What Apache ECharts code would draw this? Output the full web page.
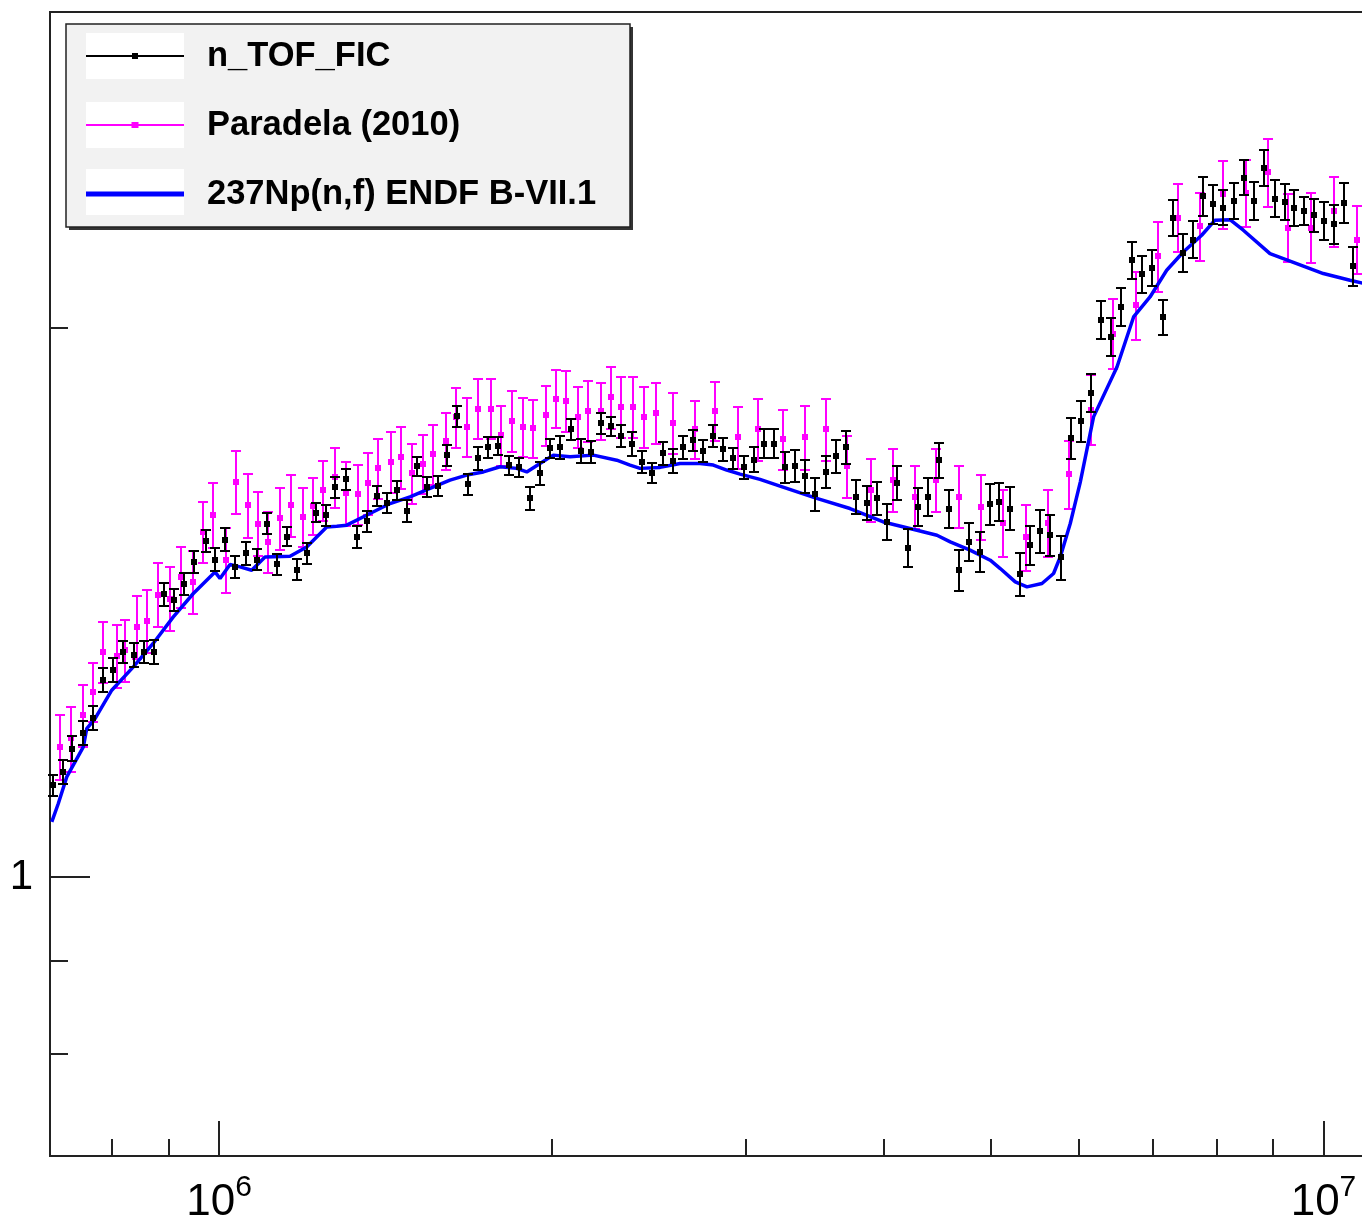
<!DOCTYPE html>
<html><head><meta charset="utf-8">
<script src="https://cdn.jsdelivr.net/npm/echarts@6/dist/echarts.min.js"></script>
<style>html,body{margin:0;padding:0;background:#fff}#chart{width:1362px;height:1224px}</style>
</head><body><div id="chart"></div>
<script>
// ---- n_TOF_FIC (energy in MeV, cross section in b, relative error in %) ----
const tofEnergyMeV = [0.7070,0.7219,0.7365,0.7536,0.7695,0.7847,0.8013,0.8181,0.8376,0.8553,0.8730,0.8916,0.9105,0.9296,0.9492,0.9727,
0.9917,1.0126,1.0339,1.0579,1.0818,1.1046,1.1278,1.1516,1.1758,1.2006,1.2241,1.2499,1.2745,1.3024,1.3326,1.3607,
1.3893,1.4186,1.4503,1.4808,1.5120,1.5438,1.5786,1.6095,1.6434,1.6805,1.7170,1.7532,1.7901,1.8316,1.8702,1.9124,1.9527,1.9939,
2.0359,2.0818,2.1256,2.1704,2.2161,2.2628,2.3105,2.3641,2.4139,2.4648,2.5219,2.5751,2.6293,2.6847,2.7447,2.8025,2.8616,2.9219,2.9878,3.0507,
3.1149,3.1806,3.2543,3.3229,3.3929,3.4644,3.5447,3.6194,3.6957,3.7736,3.8587,3.9400,4.0230,4.1078,4.2015,4.2901,4.3805,4.4820,4.5764,4.6728,
4.7713,4.8820,4.9848,5.0870,5.1971,5.3066,5.4185,5.5326,5.6575,5.7850,5.9070,6.0315,6.1585,
6.2850,6.4210,6.5563,6.7081,6.8494,6.9984,7.1518,7.3025,7.4564,7.6230,
7.7836,7.9476,8.1150,8.2981,8.4729,8.6514,8.8336,9.0384,9.2288,9.4036,9.6017,9.8039,10.010,10.221,10.437,10.641];
const tofXs = [1.1228,1.1418,1.1760,1.1989,1.2218,1.2817,1.2980,1.3283,1.3228,1.3283,1.3283,1.4283,1.4176,1.4467,1.4879,1.5282,
1.4924,1.5305,1.4786,1.5038,1.4924,1.5617,1.4836,1.5356,1.4737,1.5038,1.5827,1.5781,1.6350,1.6510,1.5356,1.5662,
1.6166,1.6030,1.6289,1.5867,1.6789,1.6356,1.6371,1.7023,1.7879,1.6406,1.6953,1.7190,1.7218,1.6810,1.6762,1.6119,1.6635,1.7168,
1.7190,1.7585,1.7116,1.7095,1.7718,1.7658,1.7434,1.7274,1.6878,1.6645,1.7061,1.6900,1.7190,1.7347,1.7116,1.7434,1.7146,1.6953,1.6762,1.6925,
1.7274,1.7274,1.6762,1.6789,1.6579,1.6207,1.6666,1.7001,1.7190,1.6152,1.6030,1.6119,1.5648,1.6442,1.5151,1.5947,1.6152,1.6914,1.5915,1.4724,
1.5259,1.5069,1.6002,1.6048,1.5915,1.4650,1.5196,1.5472,1.5388,1.4962,1.7384,1.7773,1.8416,
2.0195,1.9757,2.0519,2.1763,2.1382,2.1552,2.0262,2.2967,2.1964,2.2339,
2.3592,2.3355,2.3258,2.3453,2.4155,2.3453,2.4461,2.3524,2.3424,2.3258,2.3159,2.3033,2.2869,2.2774,2.3394,2.1598];
const tofErrPct = [1.3,1.5,1.6,1.5,1.5,1.5,1.5,1.4,1.5,1.4,1.5,1.5,1.4,1.4,1.4,1.4,
1.4,1.4,1.4,1.4,1.3,1.3,1.3,1.2,1.3,1.3,1.2,1.3,1.3,1.3,1.4,1.3,
1.3,1.3,1.2,1.4,1.2,1.3,1.3,1.3,1.3,1.3,1.4,1.3,1.1,1.2,1.2,1.4,1.4,1.2,
1.4,1.3,1.5,1.4,1.3,1.2,1.4,1.5,1.4,1.3,1.5,1.5,1.4,1.3,1.4,1.4,1.5,1.3,1.5,1.6,
1.8,1.8,1.9,2.0,2.1,2.1,2.0,2.1,2.1,2.2,2.2,2.1,2.3,2.1,2.4,2.4,2.4,2.2,2.4,2.6,
2.4,2.5,2.6,2.4,2.7,2.7,2.5,2.7,2.6,2.8,2.6,2.6,2.4,
2.4,2.4,2.4,2.3,2.3,2.3,2.2,2.3,2.4,2.3,
2.4,2.5,2.2,2.3,2.2,2.4,2.3,2.3,2.3,2.3,1.8,2.1,2.4,2.4,2.5,2.4];

// ---- Paradela (2010) ----
const parEnergyMeV = [0.7179,0.7341,0.7526,0.7685,0.7847,0.8085,0.8225,0.8434,0.8612,0.8811,0.9029,0.9233,0.9466,0.9666,
0.9882,1.0141,1.0354,1.0617,1.0853,1.1083,1.1356,1.1612,1.1906,1.2172,1.2429,1.2745,1.3024,1.3354,1.3652,
1.3940,1.4305,1.4606,1.4945,1.5291,1.5632,1.6051,1.6389,1.6780,1.7170,1.7620,1.7991,1.8408,1.8858,1.9256,1.9772,2.0189,
2.0614,2.1150,2.1595,2.2161,2.2628,2.3120,2.3721,2.4256,2.4870,2.5751,2.6976,2.8124,2.9526,3.0781,
3.2387,3.3929,3.5447,3.7058,3.8910,4.0787,4.2696,4.4605,4.6728,
4.8962,5.1259,5.3813,5.6257,5.8775,6.1585,
6.4477,6.7686,7.0777,7.3883,7.7304,8.1150,8.5083,8.9131,9.2922,9.7367,10.221,10.716];
const parXs = [1.1784,1.1910,1.2264,1.2625,1.3283,1.3216,1.3312,1.3709,1.3813,1.4280,1.4208,1.4601,1.4510,1.5453,
1.5781,1.4924,1.6460,1.5981,1.5617,1.5259,1.5716,1.5981,1.5748,1.5961,1.6289,1.6552,1.6221,1.6200,1.6427,
1.6741,1.6878,1.6973,1.6635,1.6830,1.7045,1.7333,1.7850,1.7641,1.8053,1.8053,1.7456,1.7773,1.7641,1.7605,1.7901,1.8281,
1.8226,1.7864,1.7999,1.7999,1.8318,1.8089,1.8089,1.7864,1.7953,1.7731,1.7585,1.7999,1.7408,1.7585,
1.7364,1.7408,1.7585,1.6789,1.6289,1.6496,1.6152,1.6496,1.6152,
1.5947,1.5629,1.5345,1.5629,1.6620,1.8030,
1.9842,2.0563,2.1873,2.2967,2.2717,2.3652,2.3690,2.4326,2.2680,2.2680,2.3159,2.2339];
const parErrPct = [4.1,4.1,3.9,3.7,3.8,4.0,3.9,4.0,4.0,4.0,4.0,3.9,4.0,3.9,
4.1,4.1,4.0,4.0,4.0,3.9,3.9,3.9,3.7,3.6,3.8,3.8,4.0,3.8,3.9,
3.8,3.8,3.9,3.8,3.7,3.8,3.6,3.8,3.7,3.8,3.8,3.8,3.8,3.7,3.6,3.8,3.7,
3.8,3.9,3.8,3.6,3.9,3.9,3.9,3.8,3.8,3.8,3.7,3.7,3.9,3.9,
3.8,4.0,3.9,3.9,4.0,4.0,4.0,4.0,3.9,
4.1,4.2,4.2,4.2,4.3,4.4,
4.4,4.3,4.4,4.3,4.3,4.3,4.2,4.3,4.3,4.4,4.4,4.3];

// ---- 237Np(n,f) ENDF/B-VII.1 ----
const endfEnergyMeV = [0.7056,0.7153,0.7280,0.7536,0.7590,0.7722,0.7996,0.8364,0.8720,0.9091,0.9478,0.9917,1.0021,1.0232,1.0447,1.0705,
1.1006,1.1595,1.2006,1.2517,1.2782,1.3051,1.3700,1.4284,1.4891,1.5525,1.6185,
1.6759,1.7351,1.7965,1.8601,1.8994,1.9527,2.0075,2.0787,2.1822,
2.2913,2.3558,2.4054,2.5077,2.6145,2.7258,2.8025,2.8819,2.9630,3.0890,3.2205,
3.4767,3.7266,3.9946,4.2847,4.4670,4.5927,4.7863,4.9920,5.0972,
5.2594,5.3891,5.5604,5.6965,5.7766,5.8982,6.0228,6.1919,
6.5016,6.7304,6.9651,7.2115,7.4656,7.7573,7.9757,8.2290,
8.4606,8.9449,9.4568,9.9959,10.568,10.904];
const endfXs = [1.0722,1.0973,1.1347,1.1784,1.2060,1.2213,1.2657,1.3034,1.3430,1.3882,1.4298,1.4693,1.4570,1.4830,1.4786,1.4724,
1.4973,1.4987,1.5163,1.5550,1.5564,1.5584,1.5815,1.6015,1.6152,1.6324,1.6496,
1.6600,1.6666,1.6775,1.6741,1.6666,1.6845,1.7023,1.6987,1.7023,
1.6914,1.6810,1.6741,1.6762,1.6845,1.6845,1.6810,1.6706,1.6620,1.6510,1.6371,
1.6119,1.5915,1.5648,1.5485,1.5388,1.5259,1.5101,1.4911,1.4755,
1.4510,1.4418,1.4480,1.4663,1.4973,1.5617,1.6454,1.7864,
1.9024,2.0262,2.0779,2.1490,2.1992,2.2461,2.2890,2.2905,
2.2603,2.1947,2.1672,2.1401,2.1221,2.1128];

// ---- axes ----
const xMajorTicks = [1e6, 1e7];
const xMinorTicks = [8e5, 9e5, 2e6, 3e6, 4e6, 5e6, 6e6, 7e6, 8e6, 9e6];
const yMajorTicks = [1];
const yMinorTicks = [0.8, 0.9, 2];
const legendNames = ['n_TOF_FIC', 'Paradela (2010)', '237Np(n,f) ENDF B-VII.1'];

const X_MIN = 7.03e5, X_MAX = 1.0904e7, Y_MIN = 0.7036, Y_MAX = 2.976;
const FONT = "'Liberation Sans', Arial, Helvetica, sans-serif";
const AXIS_COLOR = '#222';

function errData(E, xs, pct) {
  return E.map((e, i) => [e * 1e6, xs[i], xs[i] * (1 - pct[i] / 100), xs[i] * (1 + pct[i] / 100)]);
}
function errRender(color, lw, cap, sq) {
  return function (params, api) {
    const x = api.value(0);
    const c = api.coord([x, api.value(1)]);
    const lo = api.coord([x, api.value(2)]);
    const hi = api.coord([x, api.value(3)]);
    const px = Math.round(c[0]), py = Math.round(c[1]);
    const yt = Math.round(hi[1]), yb = Math.round(lo[1]);
    const st = { stroke: color, lineWidth: lw };
    return { type: 'group', children: [
      { type: 'line', shape: { x1: px, y1: yt, x2: px, y2: yb }, style: st },
      { type: 'line', shape: { x1: px - cap, y1: yt, x2: px + cap, y2: yt }, style: st },
      { type: 'line', shape: { x1: px - cap, y1: yb, x2: px + cap, y2: yb }, style: st },
      { type: 'rect', shape: { x: px - sq / 2, y: py - sq / 2, width: sq, height: sq }, style: { fill: color } }
    ] };
  };
}
function baseXAxis() {
  return { type: 'log', logBase: 10, min: X_MIN, max: X_MAX, gridIndex: 0, position: 'bottom',
    axisLine: { show: false }, splitLine: { show: false }, minorTick: { show: false }, minorSplitLine: { show: false } };
}
function baseYAxis() {
  return { type: 'log', logBase: 10, min: Y_MIN, max: Y_MAX, gridIndex: 0, position: 'left',
    axisLine: { show: false }, splitLine: { show: false }, minorTick: { show: false }, minorSplitLine: { show: false } };
}

const chart = echarts.init(document.getElementById('chart'), null, { renderer: 'canvas' });
const option = {
  animation: false,
  backgroundColor: '#ffffff',
  grid: { left: 50, right: -3, top: 12, bottom: 68, show: true, borderColor: AXIS_COLOR, borderWidth: 2,
    backgroundColor: 'transparent', containLabel: false, outerBoundsMode: 'none' },
  xAxis: [
    Object.assign(baseXAxis(), {
      axisTick: { show: true, inside: true, length: 35, customValues: xMajorTicks, lineStyle: { color: AXIS_COLOR, width: 2 } },
      axisLabel: { show: true, customValues: xMajorTicks, margin: 17,
        formatter: v => '{b|10}{s|' + Math.round(Math.log10(v)) + '}',
        rich: { b: { fontSize: 44, fontFamily: FONT, color: '#000' },
                s: { fontSize: 30, fontFamily: FONT, color: '#000', padding: [0, 0, 30, 0] } } }
    }),
    Object.assign(baseXAxis(), {
      axisTick: { show: true, inside: true, length: 17, customValues: xMinorTicks, lineStyle: { color: AXIS_COLOR, width: 2 } },
      axisLabel: { show: false }
    })
  ],
  yAxis: [
    Object.assign(baseYAxis(), {
      axisTick: { show: true, inside: true, length: 40, customValues: yMajorTicks, lineStyle: { color: AXIS_COLOR, width: 2 } },
      axisLabel: { show: true, customValues: yMajorTicks, margin: 17, fontSize: 42, fontFamily: FONT, color: '#000',
        formatter: v => String(Math.round(v)) }
    }),
    Object.assign(baseYAxis(), {
      axisTick: { show: true, inside: true, length: 18, customValues: yMinorTicks, lineStyle: { color: AXIS_COLOR, width: 2 } },
      axisLabel: { show: false }
    })
  ],
  legend: {
    show: true, orient: 'vertical', left: 86, top: 38, itemWidth: 98, itemHeight: 6, itemGap: 33, padding: 0,
    selectedMode: false, z: 10,
    textStyle: { fontSize: 34.5, fontWeight: 'bold', fontFamily: FONT, color: '#000', lineHeight: 36, padding: [0, 0, 0, 18] },
    data: [
      { name: legendNames[0], icon: 'path://M0,2H98V4H0ZM46,0H52V6H46Z' },
      { name: legendNames[1], icon: 'path://M0,2H98V4H0ZM45.5,0H52.5V6H45.5Z' },
      { name: legendNames[2], icon: 'path://M0,0.5H98V5.5H0Z' }
    ]
  },
  graphic: [
    { type: 'rect', z: 1, shape: { x: 69, y: 27, width: 564, height: 203 }, style: { fill: '#333' } },
    { type: 'rect', z: 1, shape: { x: 66, y: 24, width: 564, height: 203 }, style: { fill: '#f2f2f2', stroke: AXIS_COLOR, lineWidth: 1.5 } },
    { type: 'rect', z: 2, shape: { x: 86, y: 33, width: 98, height: 46 }, style: { fill: '#ffffff' } },
    { type: 'rect', z: 2, shape: { x: 86, y: 102, width: 98, height: 46 }, style: { fill: '#ffffff' } },
    { type: 'rect', z: 2, shape: { x: 86, y: 169, width: 98, height: 46 }, style: { fill: '#ffffff' } }
  ],
  series: [
    { type: 'custom', name: legendNames[1], xAxisIndex: 0, yAxisIndex: 0, z: 2,
      itemStyle: { color: '#ff00ff' }, encode: { x: 0, y: 1 },
      renderItem: errRender('#ff00ff', 2, 5, 6),
      data: errData(parEnergyMeV, parXs, parErrPct) },
    { type: 'line', name: legendNames[2], xAxisIndex: 0, yAxisIndex: 0, z: 3,
      color: '#0000ff', symbol: 'none', showSymbol: false,
      lineStyle: { color: '#0000ff', width: 3.5 }, itemStyle: { color: '#0000ff' },
      data: endfEnergyMeV.map((e, i) => [e * 1e6, endfXs[i]]) },
    { type: 'custom', name: legendNames[0], xAxisIndex: 0, yAxisIndex: 0, z: 4,
      itemStyle: { color: '#000000' }, encode: { x: 0, y: 1 },
      renderItem: errRender('#000000', 2, 5, 6),
      data: errData(tofEnergyMeV, tofXs, tofErrPct) }
  ]
};
chart.setOption(option);
</script>
</body></html>
